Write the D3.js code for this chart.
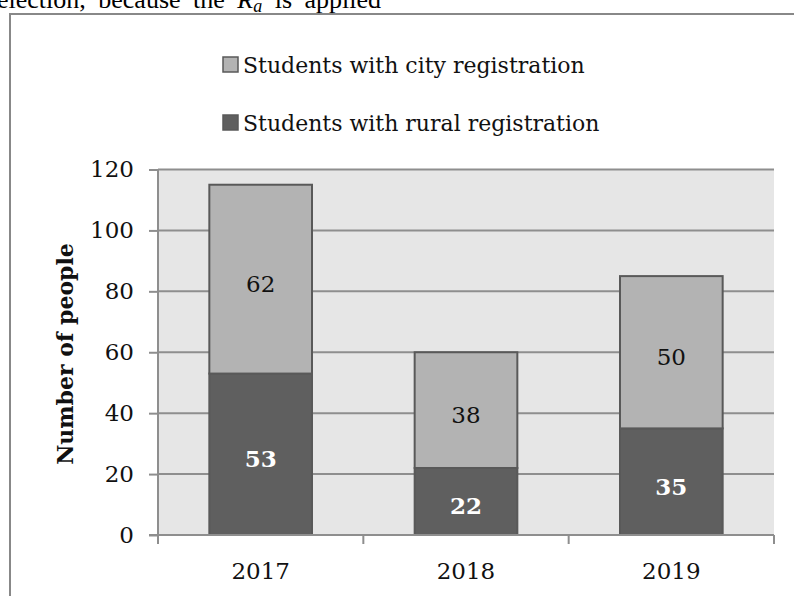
<!DOCTYPE html>
<html>
<head>
<meta charset="utf-8">
<script src="https://cdn.jsdelivr.net/npm/d3@7"></script>
<style>
  html, body { margin: 0; padding: 0; background: #fff; }
  svg { display: block; }
  .serif { font-family: "DejaVu Serif", serif; }
</style>
</head>
<body>
<svg id="svgmain" width="794" height="596"></svg>
<script>
var years = ["2017", "2018", "2019"]
var rural = [53, 22, 35]
var city = [62, 38, 50]
var yTicks = [0, 20, 40, 60, 80, 100, 120]
var seriesNames = ["Students with city registration", "Students with rural registration"]

var cityColor = "#b3b3b3"
var ruralColor = "#5f5f5f"
var edgeColor = "#595959"
var gridColor = "#8e8e8e"

var svg = d3.select("#svgmain")

// text fragment from the page above the figure
svg.append("text")
    .attr("x", -3)
    .attr("y", 8)
    .attr("font-family", "Liberation Serif, serif")
    .attr("font-size", 26)
    .attr("word-spacing", 6)
    .html('election, because the <tspan font-style="italic">R</tspan><tspan font-style="italic" font-size="18" dy="4">a</tspan><tspan dy="-4"> is applied</tspan>')

// outer frame
svg.append("rect")
    .attr("x", 10).attr("y", 14)
    .attr("width", 800).attr("height", 600)
    .attr("fill", "#fff")
    .attr("stroke", "#888").attr("stroke-width", 2)

var pLeft = 158, pRight = 774, pTop = 169.5, pBottom = 535

var x = d3.scaleBand().domain(years).range([pLeft, pRight]).paddingInner(0.5).paddingOuter(0.25)
var y = d3.scaleLinear().domain([0, 120]).range([pBottom, pTop])

// plot background
svg.append("rect")
    .attr("x", pLeft).attr("y", pTop)
    .attr("width", pRight - pLeft).attr("height", pBottom - pTop)
    .attr("fill", "#e6e6e6")

// gridlines
svg.append("g").selectAll("line").data(yTicks.slice(1)).enter().append("line")
    .attr("x1", pLeft).attr("x2", pRight)
    .attr("y1", function(d) { return y(d) }).attr("y2", function(d) { return y(d) })
    .attr("stroke", gridColor).attr("stroke-width", 2)

// stacked bars
var table = years.map(function(yr, i) { return { year: yr, rural: rural[i], city: city[i] } })
var stack = d3.stack().keys(["rural", "city"])(table)
var colors = { rural: ruralColor, city: cityColor }

var bars = svg.append("g")
stack.forEach(function(layer) {
    bars.selectAll(null).data(layer).enter().append("rect")
        .attr("x", function(d) { return x(d.data.year) })
        .attr("y", function(d) { return y(d[1]) })
        .attr("width", x.bandwidth())
        .attr("height", function(d) { return y(d[0]) - y(d[1]) })
        .attr("fill", colors[layer.key])
        .attr("stroke", edgeColor).attr("stroke-width", 2)
})

// value labels
stack.forEach(function(layer) {
    var isRural = layer.key == "rural"
    svg.append("g").selectAll("text").data(layer).enter().append("text")
        .attr("class", "serif")
        .attr("x", function(d) { return x(d.data.year) + x.bandwidth() / 2 })
        .attr("y", function(d) { return (y(d[0]) + y(d[1])) / 2 + 13 })
        .attr("text-anchor", "middle")
        .attr("font-size", 23)
        .attr("font-weight", isRural ? "bold" : "normal")
        .attr("fill", isRural ? "#fff" : "#111")
        .text(function(d) { return d[1] - d[0] })
})

// y axis
var yAxis = d3.axisLeft(y).tickValues(yTicks).tickSize(9).tickPadding(15)
var yg = svg.append("g").attr("transform", "translate(" + pLeft + ",0)").call(yAxis)
yg.attr("font-family", null)
yg.select(".domain").attr("stroke", gridColor).attr("stroke-width", 2).attr("d", "M0," + pTop + "V" + pBottom)
yg.selectAll(".tick line").attr("stroke", gridColor).attr("stroke-width", 2)
yg.selectAll(".tick text").attr("class", "serif").attr("font-size", 23).attr("fill", "#111")

// x axis with ticks on band boundaries
svg.append("line")
    .attr("x1", pLeft - 9).attr("x2", pRight)
    .attr("y1", pBottom).attr("y2", pBottom)
    .attr("stroke", gridColor).attr("stroke-width", 2)
var bounds = [pLeft].concat(years.map(function(yr) { return x(yr) + x.bandwidth() + x.step() * 0.25 }))
svg.append("g").selectAll("line").data(bounds).enter().append("line")
    .attr("x1", function(d) { return d }).attr("x2", function(d) { return d })
    .attr("y1", pBottom).attr("y2", pBottom + 9)
    .attr("stroke", gridColor).attr("stroke-width", 2)
svg.append("g").selectAll("text").data(years).enter().append("text")
    .attr("class", "serif")
    .attr("x", function(d) { return x(d) + x.bandwidth() / 2 })
    .attr("y", 579)
    .attr("text-anchor", "middle")
    .attr("font-size", 23).attr("fill", "#111")
    .text(function(d) { return d })

// y axis title
svg.append("text")
    .attr("class", "serif")
    .attr("transform", "translate(73," + 354 + ") rotate(-90)")
    .attr("text-anchor", "middle")
    .attr("font-size", 22).attr("font-weight", "bold").attr("fill", "#111")
    .text("Number of people")

// legend
var legendColors = [cityColor, ruralColor]
var lg = svg.append("g")
seriesNames.forEach(function(name, i) {
    var ly = 57 + i * 58
    lg.append("rect")
        .attr("x", 223).attr("y", ly)
        .attr("width", 15).attr("height", 15)
        .attr("fill", legendColors[i])
        .attr("stroke", edgeColor).attr("stroke-width", 1.5)
    lg.append("text")
        .attr("class", "serif")
        .attr("x", 243).attr("y", ly + 16)
        .attr("font-size", 22).attr("fill", "#111")
        .text(name)
})
</script>
</body>
</html>
